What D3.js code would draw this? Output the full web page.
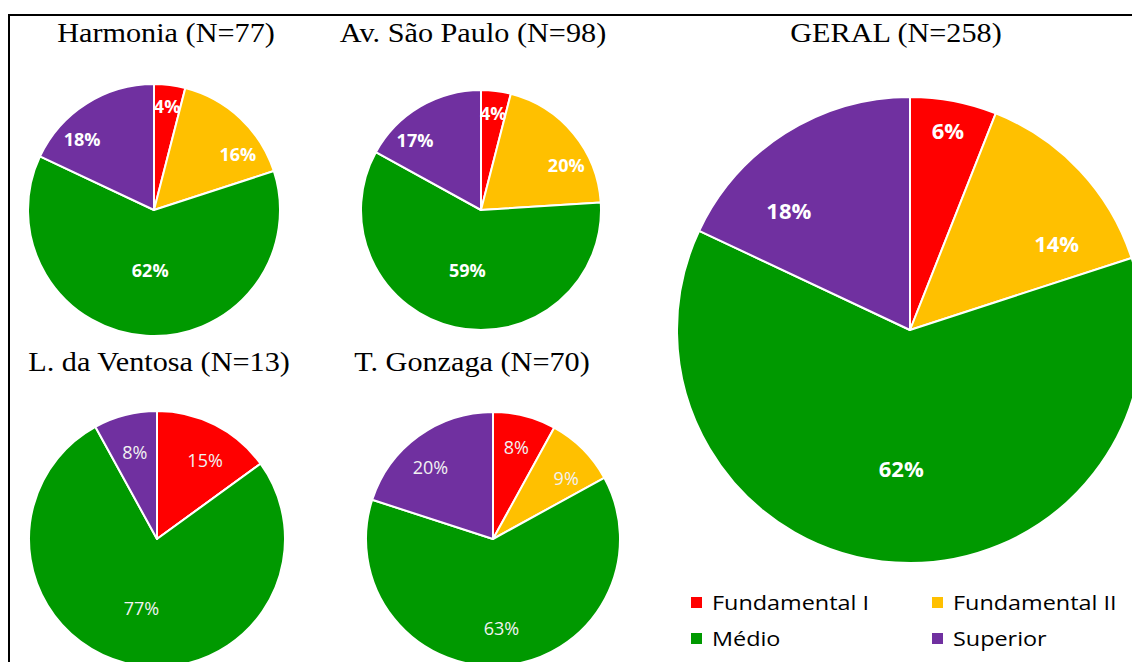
<!DOCTYPE html>
<html><head><meta charset="utf-8">
<script src="https://cdn.jsdelivr.net/npm/d3@7"></script>
<style>html,body{margin:0;padding:0;background:#fff;}svg{display:block;}</style>
</head><body>
<svg id="chart" width="1132" height="662"></svg>
<script>
const categories = ["Fundamental I", "Fundamental II", "Médio", "Superior"];
const colors = ["#FF0000", "#FFC000", "#009900", "#7030A0"];
const harmonia = [4, 16, 62, 18];
const saoPaulo = [4, 20, 59, 17];
const ventosa = [15, 0, 77, 8];
const gonzaga = [8, 9, 63, 20];
const geral = [6, 14, 62, 18];
const titles = ["Harmonia (N=77)", "Av. São Paulo (N=98)", "L. da Ventosa (N=13)", "T. Gonzaga (N=70)", "GERAL (N=258)"];

const svg = d3.select("#chart");
svg.append("rect").attr("x", 9).attr("y", 15).attr("width", 1300).attr("height", 800)
  .attr("fill", "none").attr("stroke", "#000").attr("stroke-width", 2);

const charts = [
  {values: harmonia, title: titles[0], cx: 154, cy: 210, r: 126, tx: 166, ty: 42, bold: true, fs: 18, k: 1.6, fTiny: 0.83, fSmall: 0.8, fBig: 0.48},
  {values: saoPaulo, title: titles[1], cx: 481, cy: 210, r: 120, tx: 473, ty: 42, bold: true, fs: 18, k: 1.6, fTiny: 0.81, fSmall: 0.8, fBig: 0.52},
  {values: ventosa, title: titles[2], cx: 157, cy: 539, r: 128, tx: 159, ty: 371, bold: false, fs: 18, k: 1.2, fTiny: 0.7, fSmall: 0.72, fBig: 0.56},
  {values: gonzaga, title: titles[3], cx: 493, cy: 539, r: 127, tx: 472, ty: 371, bold: false, fs: 18, k: 1.2, fTiny: 0.74, fSmall: 0.75, fBig: 0.71},
  {values: geral, title: titles[4], cx: 910, cy: 330, r: 233, tx: 896, ty: 42, bold: true, fs: 22, k: 1.6, fTiny: 0.87, fSmall: 0.73, fBig: 0.6}
];

const pie = d3.pie().sort(null).value(d => d);

function labelAngle(mid, k) {
  // skew label angle toward horizontal (Excel best-fit look)
  const s = Math.sin(mid), c = Math.cos(mid);
  return Math.atan2(s * k, c);
}

charts.forEach(c => {
  svg.append("text")
    .attr("transform", `translate(${c.tx},${c.ty}) scale(1.12,1)`)
    .attr("text-anchor", "middle")
    .attr("font-family", "'Liberation Serif', 'Times New Roman', serif").attr("font-size", 27)
    .attr("fill", "#000").text(c.title);
  const g = svg.append("g").attr("transform", `translate(${c.cx},${c.cy})`);
  const arc = d3.arc().innerRadius(0).outerRadius(c.r);
  const arcs = pie(c.values);
  g.selectAll("path").data(arcs).join("path")
    .attr("d", arc).attr("fill", (d, i) => colors[i])
    .attr("stroke", "#fff").attr("stroke-width", 2).attr("stroke-linejoin", "round");
  g.selectAll("text").data(arcs.filter(d => d.data > 0)).join("text")
    .attr("transform", d => {
      const p = d.data;
      const mid = (d.startAngle + d.endAngle) / 2;
      const big = p >= 40;
      const a = (!big && p >= 9) ? labelAngle(mid, c.k) : mid;
      const f = big ? c.fBig : (p < 9 ? c.fTiny : c.fSmall);
      return `translate(${Math.sin(a) * c.r * f},${-Math.cos(a) * c.r * f})`;
    })
    .attr("text-anchor", "middle").attr("dy", "0.36em")
    .attr("font-family", "'Open Sans', 'Noto Sans', sans-serif")
    .attr("font-size", c.fs).attr("font-weight", c.bold ? 700 : 400)
    .attr("fill", c.bold ? "#ffffff" : "#f2f2f2")
    .text(d => d.data + "%");
});

// legend
const legendPos = [[691, 597], [932, 597], [691, 633], [932, 633]];
categories.forEach((cat, i) => {
  const [x, y] = legendPos[i];
  svg.append("rect").attr("x", x).attr("y", y).attr("width", 11).attr("height", 11).attr("fill", colors[i]);
  svg.append("text").attr("transform", `translate(${x + 21},${y + 13}) scale(1.2,1)`)
    .attr("font-family", "'Open Sans', 'Noto Sans', sans-serif").attr("font-size", 19.5)
    .attr("fill", "#000").text(cat);
});
</script>
</body></html>
